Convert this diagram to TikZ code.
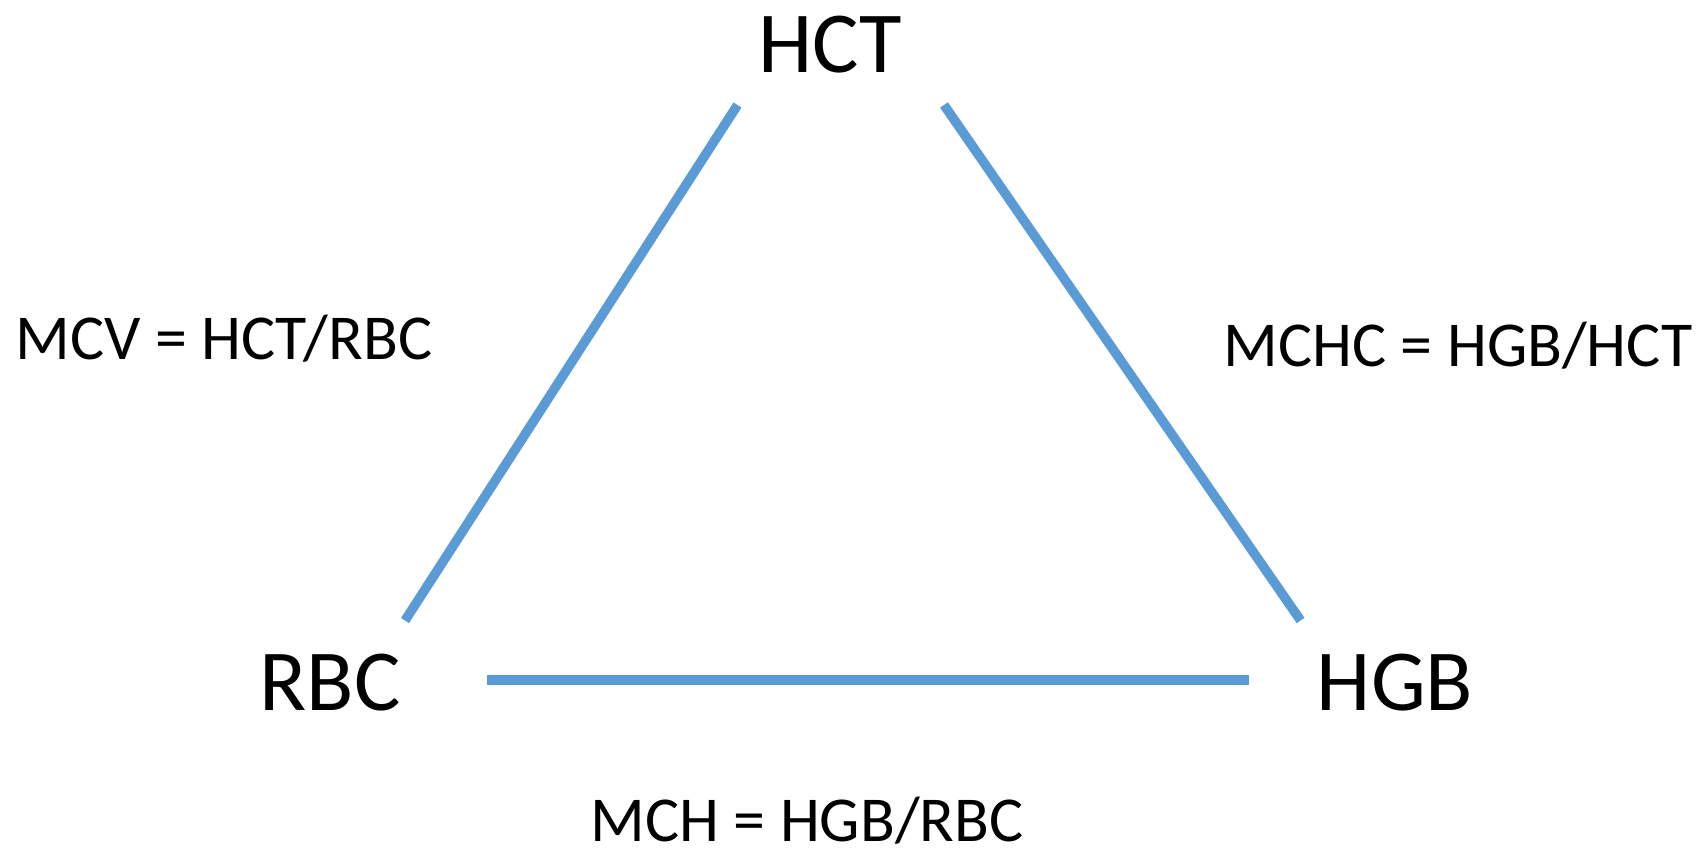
\documentclass[tikz,border=0pt]{standalone}
\usepackage{fontspec}
\setmainfont{Carlito}
\definecolor{linkblue}{HTML}{5B9BD5}
\begin{document}
\begin{tikzpicture}[x=1pt,y=-1pt,
  big/.style={inner sep=0pt,anchor=base,font=\fontsize{87}{100}\selectfont},
  small/.style={inner sep=0pt,anchor=base,font=\fontsize{64}{76}\selectfont},
  link/.style={draw=linkblue,line width=9.5pt}]
\useasboundingbox (0,0) rectangle (1698,849);
\node[big] (hct) at (830,72.5) {HCT};
\node[big] (rbc) at (330,710) {RBC};
\node[big] (hgb) at (1395,710) {HGB};
\node[small] (mcv) at (224,359.5) {MCV = HCT/RBC};
\node[small] (mchc) at (1458,366) {MCHC = HGB/HCT};
\node[small] (mch) at (807,841.5) {MCH = HGB/RBC};
\coordinate (a1) at (737.5,105);
\coordinate (a2) at (405,620.5);
\coordinate (b1) at (944,105);
\coordinate (b2) at (1300.6,620.5);
\coordinate (c1) at (487,680);
\coordinate (c2) at (1248.6,680);
\draw[link] (a1) -- (a2);
\draw[link] (b1) -- (b2);
\draw[link] (c1) -- (c2);
\end{tikzpicture}
\end{document}
